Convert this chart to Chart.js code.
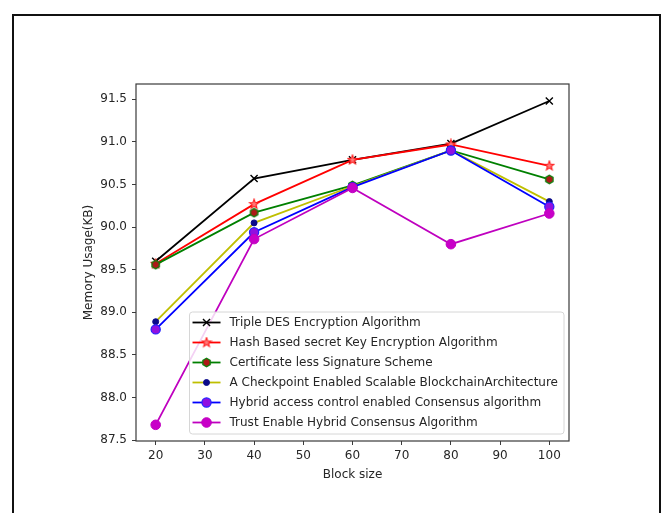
<!DOCTYPE html>
<html>
<head>
<meta charset="utf-8">
<script src="https://cdn.jsdelivr.net/npm/chart.js@4/dist/chart.umd.min.js"></script>
<style>
  html, body { margin: 0; padding: 0; background: #fff; }
  #wrap { position: relative; width: 663px; height: 513px; overflow: hidden; }
  #wrap canvas { position: absolute; left: 0; top: 0; }
  #frame { position: absolute; left: 12px; top: 14px; width: 649px; height: 530px;
           border: 2px solid #111; box-sizing: border-box; pointer-events: none; }
</style>
</head>
<body>
<div id="wrap">
  <canvas id="chart" width="663" height="513"></canvas>
  <div id="frame"></div>
</div>
<script>
// Memory usage (KB) per block size for each scheme
const blockSizes = [20, 40, 60, 80, 100];
const tripleDes    = [89.60, 90.57, 90.79, 90.98, 91.48];
const hashKey      = [89.57, 90.27, 90.79, 90.97, 90.72];
const certLess     = [89.56, 90.17, 90.49, 90.90, 90.56];
const checkpoint   = [88.89, 90.05, 90.48, 90.90, 90.30];
const hybridAccess = [88.80, 89.94, 90.47, 90.90, 90.24];
const trustHybrid  = [87.68, 89.86, 90.46, 89.80, 90.16];

const seriesNames = [
  'Triple DES Encryption Algorithm',
  'Hash Based secret Key Encryption Algorithm',
  'Certificate less Signature Scheme',
  'A Checkpoint Enabled Scalable BlockchainArchitecture',
  'Hybrid access control enabled Consensus algorithm',
  'Trust Enable Hybrid Consensus Algorithm'
];
const seriesValues = [tripleDes, hashKey, certLess, checkpoint, hybridAccess, trustHybrid];

const xTicks = [20, 30, 40, 50, 60, 70, 80, 90, 100];
const yTicks = [87.5, 88.0, 88.5, 89.0, 89.5, 90.0, 90.5, 91.0, 91.5];

const FONT = 'DejaVu Sans';
const FSIZE = 12;
const TEXT = '#262626';

// small marker images (filled star, hexagon)
function makeMarker(shape, size, fill, stroke, lw) {
  const c = document.createElement('canvas');
  c.width = size; c.height = size;
  const g = c.getContext('2d');
  const cx = size / 2, cy = size / 2, R = size / 2 - lw;
  g.beginPath();
  if (shape === 'star') {
    const r = R * 0.42;
    for (let i = 0; i < 10; i++) {
      const a = -Math.PI / 2 + i * Math.PI / 5;
      const rr = i % 2 === 0 ? R : r;
      const px = cx + rr * Math.cos(a), py = cy + rr * Math.sin(a);
      i === 0 ? g.moveTo(px, py) : g.lineTo(px, py);
    }
  } else {
    for (let i = 0; i < 6; i++) {
      const a = -Math.PI / 2 + i * Math.PI / 3;
      const px = cx + R * Math.cos(a), py = cy + R * Math.sin(a);
      i === 0 ? g.moveTo(px, py) : g.lineTo(px, py);
    }
  }
  g.closePath();
  g.fillStyle = fill; g.fill();
  g.lineWidth = lw; g.strokeStyle = stroke; g.stroke();
  return c;
}

const starMark = makeMarker('star', 12, '#ff7a7a', '#ff1a1a', 1.1);
const hexMark  = makeMarker('hex', 11, '#b01818', '#0a800a', 1.3);

const styles = [
  { line: '#000000', pointStyle: 'crossRot', radius: 5,   fill: '#000000', edge: '#000000', bw: 1.4 },
  { line: '#ff0000', pointStyle: starMark,   radius: 6,   fill: '#ff7a7a', edge: '#ff0000', bw: 1 },
  { line: '#008000', pointStyle: hexMark,    radius: 5.5, fill: '#b01818', edge: '#008000', bw: 1 },
  { line: '#bfbf00', pointStyle: 'circle',   radius: 3,   fill: '#0a0a8a', edge: '#0a0a8a', bw: 1 },
  { line: '#0000ff', pointStyle: 'circle',   radius: 4.6, fill: '#9010e0', edge: '#2020ff', bw: 1.2 },
  { line: '#bf00bf', pointStyle: 'circle',   radius: 4.8, fill: '#c800c8', edge: '#c000c0', bw: 1 }
];

const datasets = seriesNames.map((name, i) => ({
  label: name,
  data: blockSizes.map((x, j) => ({ x: x, y: seriesValues[i][j] })),
  borderColor: styles[i].line,
  borderWidth: 1.8,
  backgroundColor: styles[i].fill,
  pointStyle: styles[i].pointStyle,
  pointRadius: styles[i].radius,
  pointBackgroundColor: styles[i].fill,
  pointBorderColor: styles[i].edge,
  pointBorderWidth: styles[i].bw,
  tension: 0,
  fill: false,
  order: seriesNames.length - i   // later series drawn on top
}));

// axes frame on all four sides
const plotFrame = {
  id: 'plotFrame',
  afterDatasetsDraw(chart) {
    const { ctx, chartArea: a } = chart;
    ctx.save();
    ctx.strokeStyle = '#3a3a3a';
    ctx.lineWidth = 1.2;
    ctx.strokeRect(a.left, a.top, a.right - a.left, a.bottom - a.top);
    ctx.restore();
  }
};

// legend box in the lower right of the plot area
const legendBox = {
  id: 'legendBox',
  afterDatasetsDraw(chart) {
    const { ctx, chartArea: a } = chart;
    const ds = chart.data.datasets;
    ctx.save();
    ctx.font = FSIZE + 'px "' + FONT + '"';
    let maxW = 0;
    ds.forEach(d => { maxW = Math.max(maxW, ctx.measureText(d.label).width); });
    const rowH = 20, padL = 3, handle = 28, gap = 9, padR = 6, padT = 10.5, padB = 11.5;
    const w = padL + handle + gap + maxW + padR;
    const h = padT + rowH * (ds.length - 1) + padB;
    const x0 = a.right - 5 - w;
    const y0 = a.bottom - 7 - h;
    ctx.beginPath();
    if (ctx.roundRect) ctx.roundRect(x0, y0, w, h, 3); else ctx.rect(x0, y0, w, h);
    ctx.fillStyle = 'rgba(255,255,255,0.82)';
    ctx.fill();
    ctx.strokeStyle = '#d6d6d6';
    ctx.lineWidth = 1;
    ctx.stroke();
    ds.forEach((d, i) => {
      const cy = y0 + padT + i * rowH;
      const lx = x0 + padL;
      ctx.beginPath();
      ctx.moveTo(lx, cy);
      ctx.lineTo(lx + handle, cy);
      ctx.strokeStyle = d.borderColor;
      ctx.lineWidth = d.borderWidth;
      ctx.stroke();
      ctx.fillStyle = d.pointBackgroundColor;
      ctx.strokeStyle = d.pointBorderColor;
      ctx.lineWidth = d.pointBorderWidth;
      Chart.helpers.drawPoint(ctx, {
        pointStyle: d.pointStyle, radius: d.pointRadius, rotation: 0, borderWidth: d.pointBorderWidth
      }, lx + handle / 2, cy);
      ctx.fillStyle = TEXT;
      ctx.textAlign = 'left';
      ctx.textBaseline = 'middle';
      ctx.fillText(d.label, lx + handle + gap, cy + 0.5);
    });
    ctx.restore();
  }
};

new Chart(document.getElementById('chart'), {
  type: 'line',
  data: { datasets: datasets },
  plugins: [plotFrame, legendBox],
  options: {
    responsive: false,
    animation: false,
    layout: { padding: { left: 80, right: 94, top: 84, bottom: 28 } },
    plugins: { legend: { display: false }, tooltip: { enabled: false } },
    scales: {
      x: {
        type: 'linear',
        min: 16, max: 104,
        afterBuildTicks: s => { s.ticks = xTicks.map(v => ({ value: v })); },
        afterFit: s => { s.height = 44; },
        grid: { drawOnChartArea: false, drawTicks: true, tickLength: 4, color: '#3a3a3a' },
        border: { display: false },
        ticks: { padding: 4, color: TEXT, font: { family: FONT, size: FSIZE }, maxRotation: 0,
                 callback: v => String(v) },
        title: { display: true, text: 'Block size', color: TEXT,
                 font: { family: FONT, size: FSIZE }, padding: { top: 0, bottom: 3 } }
      },
      y: {
        type: 'linear',
        min: 87.49, max: 91.68,
        afterBuildTicks: s => { s.ticks = yTicks.map(v => ({ value: v })); },
        afterFit: s => { s.width = 56; },
        grid: { drawOnChartArea: false, drawTicks: true, tickLength: 4, color: '#3a3a3a' },
        border: { display: false },
        ticks: { padding: 5, color: TEXT, font: { family: FONT, size: FSIZE },
                 callback: v => Number(v).toFixed(1) },
        title: { display: true, text: 'Memory Usage(KB)', color: TEXT,
                 font: { family: FONT, size: FSIZE }, padding: { top: 2, bottom: 0 } }
      }
    }
  }
});
</script>
</body>
</html>
